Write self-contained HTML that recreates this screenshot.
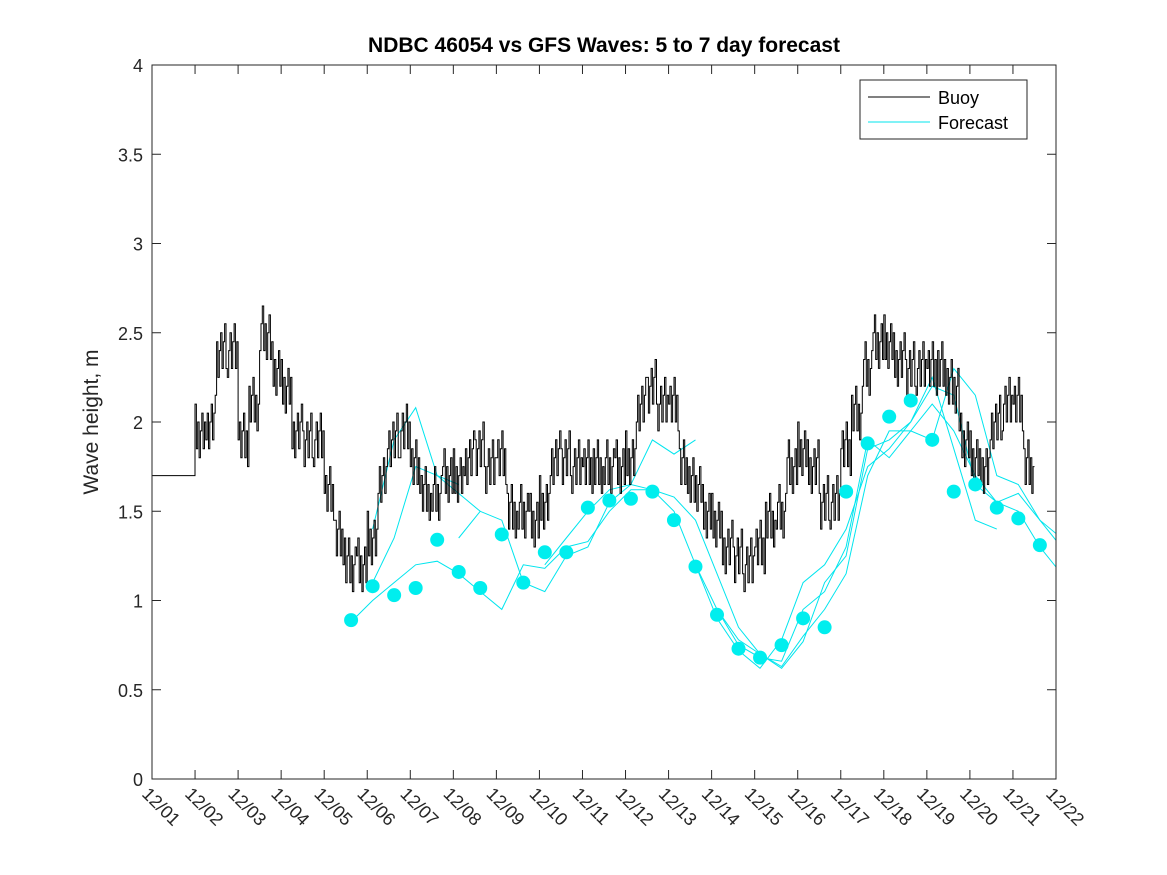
<!DOCTYPE html>
<html><head><meta charset="utf-8"><style>
body{margin:0;background:#fff;}
svg{display:block;font-family:"Liberation Sans","DejaVu Sans",sans-serif;}
</style></head><body>
<svg id="chart" width="1167" height="875" viewBox="0 0 1167 875" xmlns="http://www.w3.org/2000/svg">
<defs><clipPath id="plotclip"><rect x="152" y="65" width="904" height="714"/></clipPath></defs>
<rect x="0" y="0" width="1167" height="875" fill="#fff"/>
<text x="604" y="52" text-anchor="middle" font-size="21" font-weight="bold" fill="#000">NDBC 46054 vs GFS Waves: 5 to 7 day forecast</text>
<text transform="translate(98,422) rotate(-90)" text-anchor="middle" font-size="21" fill="#262626">Wave height, m</text>
<g id="series" clip-path="url(#plotclip)"></g>
<rect x="152" y="65" width="904" height="714" fill="none" stroke="#262626" stroke-width="1"/>
<g id="ticks"></g>
<g>
<rect x="860" y="80" width="167" height="59" fill="#fff" stroke="#262626" stroke-width="1"/>
<line x1="868" y1="97" x2="930" y2="97" stroke="#000" stroke-width="1"/>
<text x="938" y="104" font-size="18" fill="#000">Buoy</text>
<line x1="868" y1="122" x2="930" y2="122" stroke="#00e5ee" stroke-width="1"/>
<text x="938" y="129" font-size="18" fill="#000">Forecast</text>
</g>
</svg>
<script>
const xTickLabels=["12/01","12/02","12/03","12/04","12/05","12/06","12/07","12/08","12/09","12/10","12/11","12/12","12/13","12/14","12/15","12/16","12/17","12/18","12/19","12/20","12/21","12/22"];
const yTicks=[0,0.5,1,1.5,2,2.5,3,3.5,4];
const yTickLabels=["0","0.5","1","1.5","2","2.5","3","3.5","4"];
// buoy: start day 0, step 0.25 day
const buoyStart=0, buoyStep=0.25;
const buoyValues=[1.7,1.7,1.7,1.7,
1.95,2.0,2.4,2.4,
1.9,2.1,2.5,2.3,
2.2,1.95,1.9,1.9,
1.6,1.35,1.2,1.2,
1.35,1.7,1.9,1.95,
1.75,1.6,1.6,1.7,
1.7,1.8,1.85,1.75,
1.8,1.5,1.5,1.45,
1.55,1.8,1.8,1.75,
1.75,1.75,1.75,1.75,
1.8,2.1,2.2,2.1,
2.1,1.75,1.65,1.5,
1.45,1.3,1.25,1.2,
1.3,1.45,1.5,1.75,
1.85,1.75,1.55,1.55,
1.85,2.05,2.3,2.45,
2.45,2.35,2.3,2.3,
2.3,2.3,2.2,1.9,
1.8,1.75,2.0,2.1,
2.1,1.75];
// buoy hourly-ish noise pattern (m)
const buoyNoise=[0,0.1,-0.1,0.05,0.15,-0.1,0.05,-0.15];
// forecast dots: start day 4.625, step 0.5
const dotStart=4.625, dotStep=0.5;
const dotValues=[0.89,1.08,1.03,1.07,1.34,1.16,1.07,1.37,1.10,1.27,1.27,1.52,1.56,1.57,1.61,1.45,1.19,0.92,0.73,0.68,0.75,0.90,0.85,1.61,1.88,2.03,2.12,1.90,1.61,1.65,1.52,1.46,1.31];
// forecast lines (step 0.5 day)
const fAStart=5.125;
const fAValues=[1.4,1.9,2.08,1.7,1.65];
const fBStart=5.125;
const fBValues=[1.1,1.35,1.75,1.7,1.6,1.5];
const fCStart=4.625;
const fCValues=[0.88,1.0,1.1,1.2,1.22,1.15,1.05,0.95,1.2,1.18,1.3,1.33,1.5,1.62,1.62,1.58,1.45,1.15,0.85,0.7,0.63,0.8,0.95,1.15,1.7,1.95,1.95,2.1,1.95,1.7,1.55,1.5,1.3,1.15];
const fDStart=7.125;
const fDValues=[1.35,1.5,1.45,1.1,1.05,1.25,1.3,1.55,1.65,1.9,1.82,1.9];
const fEStart=12.625;
const fEValues=[1.2,0.95,0.75,0.68,0.66,0.95,1.05,1.3,1.9,1.8,1.95,1.9,2.3,2.15,1.7,1.65,1.45,1.3,1.2];
const fFStart=13.125;
const fFValues=[0.95,0.78,0.7,0.62,0.77,1.1,1.25,1.85,1.9,2.0,2.2,2.15,1.65,1.55,1.6,1.45,1.35,1.2];
const fGStart=9.125;
const fGValues=[1.2,1.35,1.5,1.62,1.65,1.62,1.5,1.2,0.9,0.72,0.62,0.78,1.1,1.2,1.4,1.75,1.85,2.0,2.25,1.85,1.45,1.4];

const NS="http://www.w3.org/2000/svg";
const X0=152,X1=1056,Y0=779,Y1=65;
function xs(d){return X0+(X1-X0)*d/21;}
function ys(v){return Y0-(Y0-Y1)*v/4;}
function mk(tag,attrs,parent){const e=document.createElementNS(NS,tag);for(const k in attrs)e.setAttribute(k,attrs[k]);parent.appendChild(e);return e;}
const ticks=document.getElementById('ticks');
xTickLabels.forEach((lab,i)=>{
  const x=xs(i);
  if(i>0&&i<21){
    const t1=mk('line',{x1:x,y1:Y0,x2:x,y2:Y0-9,stroke:'#262626'},ticks);
    
    
    const t2=mk('line',{x1:x,y1:Y1,x2:x,y2:Y1+9,stroke:'#262626'},ticks);
    
    
  }
  const t=mk('text',{transform:`translate(${x-11},${Y0+16}) rotate(45)`,'font-size':'18',fill:'#262626'},ticks);
  t.textContent=lab;
  
  
});
yTicks.forEach((v,i)=>{
  const y=ys(v);
  if(i>0&&i<yTicks.length-1){
    const a=mk('line',{x1:X0,y1:y,x2:X0+9,y2:y,stroke:'#262626'},ticks);
    
    
    const b=mk('line',{x1:X1,y1:y,x2:X1-9,y2:y,stroke:'#262626'},ticks);
    
    
  }
  const t=mk('text',{x:X0-9,y:y+7,'text-anchor':'end','font-size':'18',fill:'#262626'},ticks);
  t.textContent=yTickLabels[i];
  
  
});
const series=document.getElementById('series');
function line(start,step,vals,color,name){
  const pts=vals.map((v,i)=>xs(start+i*step).toFixed(1)+','+ys(v).toFixed(1)).join(' ');
  const p=mk('polyline',{points:pts,fill:'none',stroke:color,'stroke-width':'1'},series);
  
  
}
line(fAStart,0.5,fAValues,'#00e5ee','forecast-line-a');
line(fBStart,0.5,fBValues,'#00e5ee','forecast-line-b');
line(fCStart,0.5,fCValues,'#00e5ee','forecast-line-c');
line(fDStart,0.5,fDValues,'#00e5ee','forecast-line-d');
line(fEStart,0.5,fEValues,'#00e5ee','forecast-line-e');
line(fFStart,0.5,fFValues,'#00e5ee','forecast-line-f');
line(fGStart,0.5,fGValues,'#00e5ee','forecast-line-g');
// buoy stepped, noisy
let bp=[];
const sub=8;
buoyValues.forEach((v,i)=>{
  const d0=buoyStart+i*buoyStep;
  for(let k=0;k<sub;k++){
    const d=d0+k*buoyStep/sub;
    const n=(d<1)?0:buoyNoise[(i*sub+k+i)%buoyNoise.length];
    const val=v+n;
    bp.push(xs(d).toFixed(1)+','+ys(val).toFixed(1));
    bp.push(xs(d+buoyStep/sub).toFixed(1)+','+ys(val).toFixed(1));
  }
});
const bl=mk('polyline',{points:bp.join(' '),fill:'none',stroke:'#000','stroke-width':'1'},series);


dotValues.forEach((v,i)=>{
  const c=mk('circle',{cx:xs(dotStart+i*dotStep),cy:ys(v),r:7,fill:'#00eeee'},series);
  
  
});
</script>
</body></html>
